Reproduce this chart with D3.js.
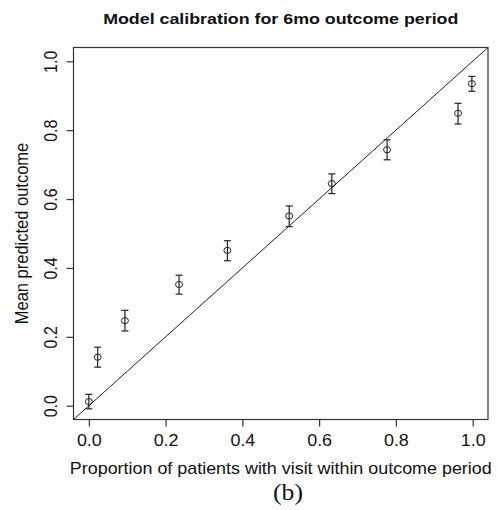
<!DOCTYPE html>
<html>
<head>
<meta charset="utf-8">
<script src="https://cdn.jsdelivr.net/npm/d3@7"></script>
<style>
  body { margin: 0; background: #fff; }
  svg { display: block; }
</style>
</head>
<body>
<div id="chart"></div>
<script>
// calibration points
var observed = [0.0, 0.023, 0.094, 0.235, 0.361, 0.522, 0.633, 0.777, 0.962, 0.998];
var predicted = [0.012, 0.141, 0.247, 0.352, 0.451, 0.551, 0.645, 0.743, 0.849, 0.935];
var lower = [-0.009, 0.112, 0.217, 0.324, 0.421, 0.520, 0.616, 0.714, 0.818, 0.913];
var upper = [0.033, 0.170, 0.277, 0.379, 0.479, 0.580, 0.673, 0.772, 0.878, 0.956];
var ticks = [0, 0.2, 0.4, 0.6, 0.8, 1.0];

var width = 498, height = 510;
var box = {left: 73.5, top: 47.5, right: 488, bottom: 419.5};
var sans = '"Liberation Sans", Arial, sans-serif';
var ink = '#222';
// the original figure is a bit wider than tall, so text is stretched sideways
var stretch = 1.12;

var data = observed.map(function(d, i) {
  return {x: d, y: predicted[i], lo: lower[i], hi: upper[i]};
});

var xScale = d3.scaleLinear().domain([-0.04, 1.04]).range([box.left, box.right]);
var yScale = d3.scaleLinear().domain([-0.04, 1.04]).range([box.bottom, box.top]);

var svg = d3.select('#chart').append('svg')
    .attr('width', width)
    .attr('height', height);

// diagonal y = x
svg.append('line')
    .attr('x1', xScale(-0.04)).attr('y1', yScale(-0.04))
    .attr('x2', xScale(1.04)).attr('y2', yScale(1.04))
    .attr('stroke', ink)
    .attr('stroke-width', 1);

// error bars
var bars = svg.append('g')
    .attr('class', 'errorbars')
    .attr('stroke', ink)
    .attr('stroke-width', 1.2)
    .attr('fill', 'none')
  .selectAll('g')
    .data(data)
  .enter().append('g');

bars.append('line')
    .attr('x1', function(d) { return xScale(d.x); })
    .attr('x2', function(d) { return xScale(d.x); })
    .attr('y1', function(d) { return yScale(d.lo); })
    .attr('y2', function(d) { return yScale(d.hi); });

bars.append('line')
    .attr('x1', function(d) { return xScale(d.x) - 3.5; })
    .attr('x2', function(d) { return xScale(d.x) + 3.5; })
    .attr('y1', function(d) { return yScale(d.lo); })
    .attr('y2', function(d) { return yScale(d.lo); });

bars.append('line')
    .attr('x1', function(d) { return xScale(d.x) - 3.5; })
    .attr('x2', function(d) { return xScale(d.x) + 3.5; })
    .attr('y1', function(d) { return yScale(d.hi); })
    .attr('y2', function(d) { return yScale(d.hi); });

// open circles (slightly wide, like the source)
svg.append('g')
  .selectAll('ellipse')
    .data(data)
  .enter().append('ellipse')
    .attr('cx', function(d) { return xScale(d.x); })
    .attr('cy', function(d) { return yScale(d.y); })
    .attr('rx', 3.5)
    .attr('ry', 3.1)
    .attr('fill', 'none')
    .attr('stroke', ink)
    .attr('stroke-width', 1);

// plot box
svg.append('rect')
    .attr('x', box.left).attr('y', box.top)
    .attr('width', box.right - box.left)
    .attr('height', box.bottom - box.top)
    .attr('fill', 'none')
    .attr('stroke', '#333')
    .attr('stroke-width', 1.2);

var xAxis = d3.axisBottom(xScale)
  .tickValues(ticks)
  .tickFormat(d3.format('.1f'))
  .tickSize(7)
  .tickPadding(8.5)
  .tickSizeOuter(0);

var gx = svg.append('g')
    .attr('class', 'axis axis--x')
    .attr('transform', 'translate(0,' + box.bottom + ')')
    .call(xAxis);
gx.select('.domain').remove();
gx.selectAll('line').attr('stroke', '#333').attr('stroke-width', 1.2);
gx.selectAll('text')
    .attr('transform', 'scale(' + stretch + ',1)')
    .attr('font-family', sans)
    .attr('font-size', 16)
    .attr('fill', '#111');

var yAxis = d3.axisLeft(yScale)
  .tickValues(ticks)
  .tickFormat(d3.format('.1f'))
  .tickSize(7)
  .tickSizeOuter(0);

var gy = svg.append('g')
    .attr('class', 'axis axis--y')
    .attr('transform', 'translate(' + box.left + ',0)')
    .call(yAxis);
gy.select('.domain').remove();
gy.selectAll('line').attr('stroke', '#333').attr('stroke-width', 1.2);
// R style: labels parallel to the axis
gy.selectAll('text')
    .attr('x', null).attr('dy', null)
    .attr('text-anchor', 'middle')
    .attr('transform', 'translate(-16.5,0) scale(' + stretch + ',1) rotate(-90)')
    .attr('font-family', sans)
    .attr('font-size', 16)
    .attr('fill', '#111');

svg.append('text')
    .attr('transform', 'translate(' + ((box.left + box.right) / 2) + ',23.5) scale(1.15,1)')
    .attr('text-anchor', 'middle')
    .attr('font-family', sans)
    .attr('font-weight', 'bold')
    .attr('font-size', 15.5)
    .attr('fill', '#111')
    .text('Model calibration for 6mo outcome period');

svg.append('text')
    .attr('transform', 'translate(' + ((box.left + box.right) / 2) + ',474) scale(' + stretch + ',1)')
    .attr('text-anchor', 'middle')
    .attr('font-family', sans)
    .attr('font-size', 16)
    .attr('fill', '#111')
    .text('Proportion of patients with visit within outcome period');

svg.append('text')
    .attr('transform', 'translate(28,' + ((box.top + box.bottom) / 2) + ') scale(' + stretch + ',1) rotate(-90)')
    .attr('text-anchor', 'middle')
    .attr('font-family', sans)
    .attr('font-size', 16.5)
    .attr('fill', '#111')
    .text('Mean predicted outcome');

svg.append('text')
    .attr('transform', 'translate(288,500) scale(1.07,1)')
    .attr('text-anchor', 'middle')
    .attr('font-family', '"Liberation Serif", "Times New Roman", serif')
    .attr('font-size', 24)
    .attr('fill', '#111')
    .text('(b)');
</script>
</body>
</html>
